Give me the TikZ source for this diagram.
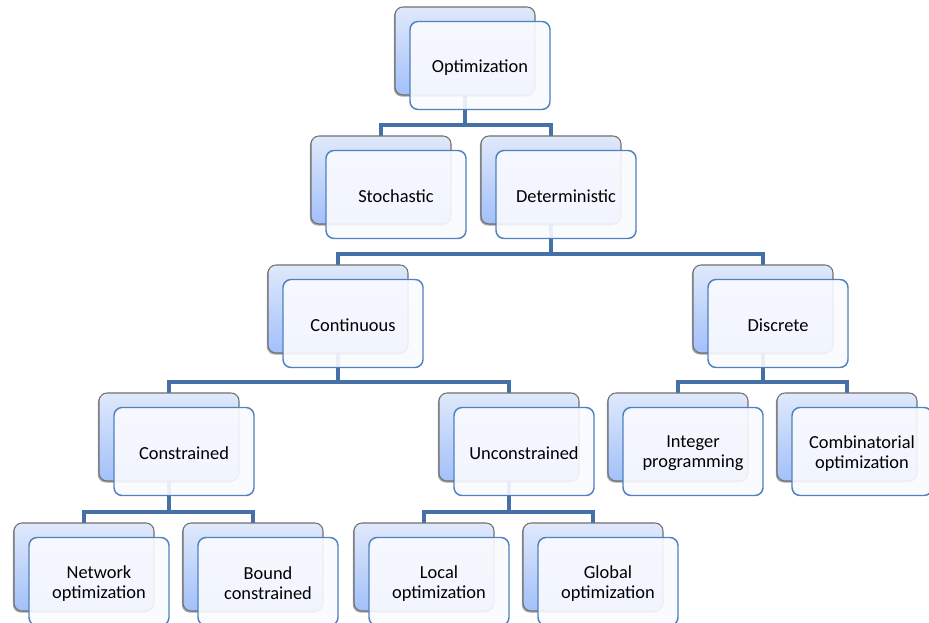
\documentclass[tikz,border=0pt]{standalone}
\usepackage{fontspec}
\setmainfont{Carlito}
\usetikzlibrary{shadows,backgrounds}
\definecolor{frontblue}{RGB}{79,129,189}
\definecolor{connblue}{RGB}{70,112,168}
\definecolor{backtop}{RGB}{224,233,251}
\definecolor{backbot}{RGB}{162,192,250}
\definecolor{backedge}{RGB}{112,112,112}
\definecolor{frontfill}{RGB}{250,251,255}
\tikzset{
  backbox/.style={rectangle, rounded corners=6pt, minimum width=105pt, minimum height=66pt,
    inner sep=0pt, outer sep=0pt, draw=backedge, line width=0.8pt,
    top color=backtop, bottom color=backbot,
    drop shadow={shadow xshift=-0.9pt, shadow yshift=-1.2pt, opacity=0.35, fill=black}},
  frontbox/.style={rectangle, rounded corners=6pt, minimum width=105pt, minimum height=66pt,
    inner sep=0pt, outer sep=0pt, draw=frontblue, line width=1.1pt,
    fill=frontfill, fill opacity=0.9},
  boxtext/.style={align=center, inner sep=0pt, font=\fontsize{13.8}{15}\selectfont},
  conn/.style={draw=connblue, line width=3.6pt}
}
\newcommand{\boxpair}[4]{%
  \node[backbox] (#1) at (#2+70,#3+44) {};
  \node[frontbox] (#1-f) at (#2+85,#3+58.5) {};
  \node[boxtext] (#1-t) at ([yshift=-1.5pt]#1-f.center) {#4};
}
\newcommand{\linkto}[2]{%
  \draw[conn] (#1.south) |- ([yshift=8.25pt]#2.north) -- (#2.north);
}
\begin{document}
\begin{tikzpicture}[x=0.75pt,y=-0.75pt]
\useasboundingbox (0,0) rectangle (929,623);
\boxpair{opt}{395}{7}{Optimization}
\boxpair{sto}{311}{136}{Stochastic}
\boxpair{det}{481}{136}{Deterministic}
\boxpair{con}{268}{265}{Continuous}
\boxpair{dis}{693}{265}{Discrete}
\boxpair{cns}{99}{393}{Constrained}
\boxpair{unc}{439}{393}{Unconstrained}
\boxpair{int}{608}{393}{Integer\\programming}
\boxpair{com}{777}{393}{Combinatorial\\optimization}
\boxpair{net}{14}{523}{Network\\optimization}
\boxpair{bnd}{183}{523}{Bound\\constrained}
\boxpair{loc}{354}{523}{Local\\optimization}
\boxpair{glo}{523}{523}{Global\\optimization}
\begin{scope}[on background layer]
\fill[white] (0,0) rectangle (929,623);
\linkto{opt}{sto}
\linkto{opt}{det}
\linkto{det}{con}
\linkto{det}{dis}
\linkto{con}{cns}
\linkto{con}{unc}
\linkto{dis}{int}
\linkto{dis}{com}
\linkto{cns}{net}
\linkto{cns}{bnd}
\linkto{unc}{loc}
\linkto{unc}{glo}
\end{scope}
\end{tikzpicture}
\end{document}
